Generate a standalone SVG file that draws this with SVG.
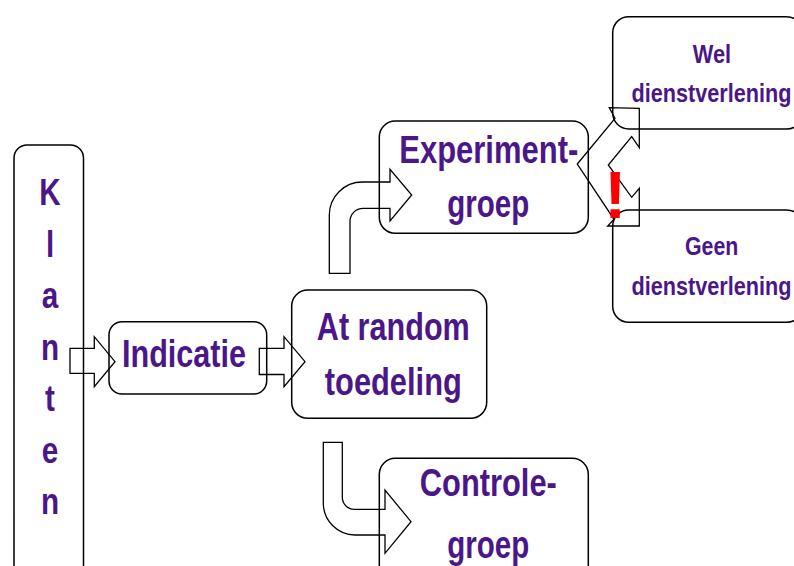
<svg xmlns="http://www.w3.org/2000/svg" width="794" height="566" viewBox="0 0 794 566">
<style>
.box{fill:none;stroke:#000;stroke-width:1.5}
.arr{fill:none;stroke:#000;stroke-width:1.3;stroke-linejoin:miter}
.t{font-family:"Liberation Sans",Arial,sans-serif;font-weight:bold;fill:#4B1788;text-anchor:middle}
.big{font-size:39px}
.sm{font-size:25.6px}
.kl{font-size:37px}
.ex{font-family:"Liberation Sans",Arial,sans-serif;font-weight:bold;fill:#FF0000;font-size:66px;text-anchor:middle}
</style>
<rect width="794" height="566" fill="#fff"/>
<g id="klanten">
<rect class="box" x="14" y="145" width="69.5" height="440" rx="13"/>
<text class="t kl" x="50" y="205" textLength="21.4" lengthAdjust="spacingAndGlyphs">K</text>
<text class="t kl" x="50" y="256.5" textLength="8.2" lengthAdjust="spacingAndGlyphs">l</text>
<text class="t kl" x="50" y="308" textLength="16.5" lengthAdjust="spacingAndGlyphs">a</text>
<text class="t kl" x="50" y="359.5" textLength="18.1" lengthAdjust="spacingAndGlyphs">n</text>
<text class="t kl" x="50" y="411" textLength="9.9" lengthAdjust="spacingAndGlyphs">t</text>
<text class="t kl" x="50" y="462.5" textLength="16.5" lengthAdjust="spacingAndGlyphs">e</text>
<text class="t kl" x="50" y="514" textLength="18.1" lengthAdjust="spacingAndGlyphs">n</text>
</g>
<g id="indicatie">
<rect class="box" x="109" y="321.7" width="157.7" height="72.3" rx="13"/>
<text class="t big" x="184" y="367.3" textLength="124" lengthAdjust="spacingAndGlyphs">Indicatie</text>
</g>
<g id="random">
<rect class="box" x="291.7" y="290" width="195" height="128.3" rx="16"/>
<text class="t big" x="393.3" y="340" textLength="153" lengthAdjust="spacingAndGlyphs">At random</text>
<text class="t big" x="393.3" y="395" textLength="137" lengthAdjust="spacingAndGlyphs">toedeling</text>
</g>
<g id="experiment">
<rect class="box" x="379.3" y="121" width="209" height="112.3" rx="16"/>
<text class="t big" x="488.8" y="163.3" textLength="179" lengthAdjust="spacingAndGlyphs">Experiment-</text>
<text class="t big" x="488.3" y="216.7" textLength="82" lengthAdjust="spacingAndGlyphs">groep</text>
</g>
<g id="controle">
<rect class="box" x="379.3" y="458.3" width="209" height="130" rx="16"/>
<text class="t big" x="488.3" y="496" textLength="137" lengthAdjust="spacingAndGlyphs">Controle-</text>
<text class="t big" x="488.3" y="558" textLength="82" lengthAdjust="spacingAndGlyphs">groep</text>
</g>
<g id="wel">
<rect class="box" x="612.7" y="16.7" width="190" height="112.3" rx="16"/>
<text class="t sm" x="712" y="63.3" textLength="38.3" lengthAdjust="spacingAndGlyphs">Wel</text>
<text class="t sm" x="711.5" y="101.7" textLength="160" lengthAdjust="spacingAndGlyphs">dienstverlening</text>
</g>
<g id="geen">
<rect class="box" x="612.7" y="210" width="190" height="112.3" rx="16"/>
<text class="t sm" x="711.7" y="255" textLength="53.3" lengthAdjust="spacingAndGlyphs">Geen</text>
<text class="t sm" x="711.5" y="295" textLength="160" lengthAdjust="spacingAndGlyphs">dienstverlening</text>
</g>
<g id="connectors">
<path class="arr" d="M70,348.3 H94.3 V336.7 L115,361.7 L94.3,386.7 V373.3 H70 Z"/>
<path class="arr" d="M259.3,348.3 H284 V336.7 L305,361.7 L284,386.7 V374.5 H259.3 Z"/>
<path class="arr" d="M329.3,273.3 V215 A33 33 0 0 1 362.3,182 H390 V169.3 L411.7,195 L390,221 V208.3 H363 A13 13 0 0 0 350,221.3 V273.3 Z"/>
<path class="arr" d="M323.3,442.3 H342.3 V497 A12 12 0 0 0 354.3,509.3 H385 V490 L411,521.7 L385,553.3 V535 H355 A32 32 0 0 1 323.3,503 Z"/>
<polygon class="arr" points="577.3,164 615,118.3 609.3,107.7 639.3,108.3 639.3,147.7 631.7,136.7 608.3,165 631.7,197.3 639.3,188.3 639.3,226 607.7,226 614,219.3"/>
</g>
<text class="ex" x="615.3" y="218">!</text>
</svg>
